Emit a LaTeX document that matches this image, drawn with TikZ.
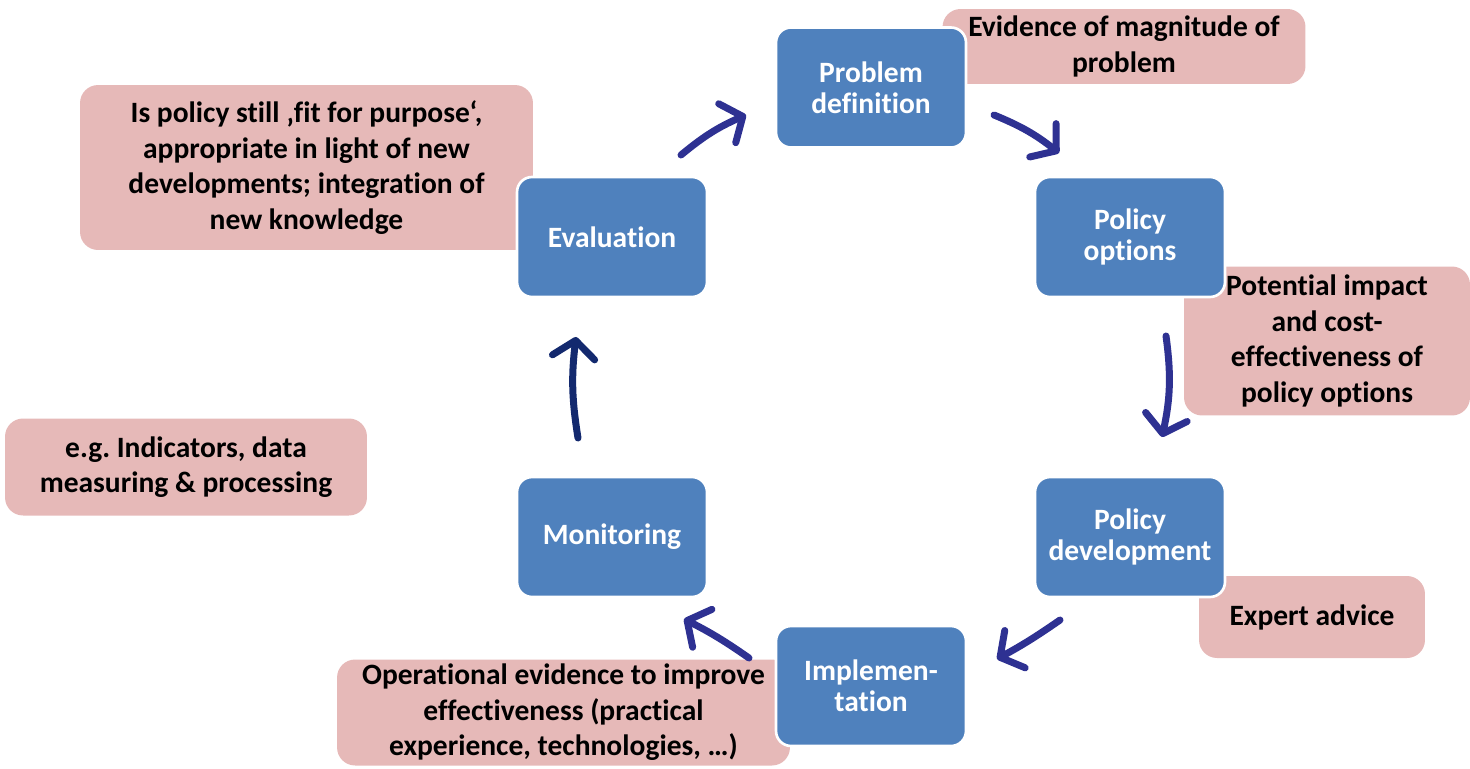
\documentclass[tikz,border=0pt]{standalone}
\usepackage{fontspec}
\setmainfont{Carlito}[Ligatures=NoCommon]
\usetikzlibrary{arrows.meta}
\definecolor{boxblue}{HTML}{4F81BD}
\definecolor{notepink}{HTML}{E6B9B8}
\definecolor{arrownavy}{HTML}{2E3192}
\definecolor{arrowdark}{HTML}{13296E}
\begin{document}
\frenchspacing
\begin{tikzpicture}[x=0.02cm,y=-0.02cm,
  stage/.style={draw=white, line width=1.5pt, fill=boxblue, rounded corners=0.3cm,
    minimum width=3.8cm, minimum height=2.4cm, text=white, align=center, inner sep=0,
    font=\bfseries\fontsize{16.8}{17.8}\selectfont},
  note/.style={fill=notepink, rounded corners=0.36cm, align=center, inner sep=0,
    font=\bfseries\fontsize{16.8}{20.2}\selectfont},
  cyc/.style={draw=arrownavy, line width=0.14cm, line cap=round,
    -{Straight Barb[length=0.34cm,width=0.85cm,round]}}
]
\useasboundingbox (0,0) rectangle (1470,768);
% notes
\node[note, minimum width=7.26cm, minimum height=1.5cm] (nprob) at (1124,46.5) {Evidence of magnitude of\\problem};
\node[note, minimum width=9.06cm, minimum height=3.3cm] (neval) at (306.5,167.5) {Is policy still ‚fit for purpose‘,\\appropriate in light of new\\developments; integration of\\new knowledge};
\node[note, minimum width=5.72cm, minimum height=2.98cm] (nopt) at (1327,341) {Potential impact\\and cost-\\effectiveness of\\policy options};
\node[note, minimum width=7.24cm, minimum height=1.94cm] (nmon) at (186,467) {e.g. Indicators, data\\measuring \& processing};
\node[note, minimum width=4.52cm, minimum height=1.64cm] (ndev) at (1312,617) {Expert advice};
\node[note, minimum width=9.06cm, minimum height=2.12cm] (nimp) at (563.5,712.5) {Operational evidence to improve\\effectiveness (practical\\experience, technologies, …)};
% stages
\node[stage] (prob) at (871,87.5) {Problem\\definition};
\node[stage] (opt) at (1130,237) {Policy\\options};
\node[stage] (dev) at (1130,537) {Policy\\development};
\node[stage] (imp) at (871,686) {Implemen-\\tation};
\node[stage] (mon) at (612,537) {Monitoring};
\node[stage] (eval) at (612,237) {Evaluation};
% arrow ends
\coordinate (a1s) at (681,155); \coordinate (a1e) at (746,115);
\coordinate (a2s) at (994,115); \coordinate (a2e) at (1059,153);
\coordinate (a3s) at (1166,336); \coordinate (a3e) at (1162,437);
\coordinate (a4s) at (1060,620); \coordinate (a4e) at (997,659);
\coordinate (a5s) at (749,658); \coordinate (a5e) at (684,619);
\coordinate (a6s) at (578,438); \coordinate (a6e) at (576,337);
\draw[cyc] (a1s) to[bend left=8] (a1e);
\draw[cyc] (a2s) to[bend left=8] (a2e);
\draw[cyc] (a3s) to[bend left=10] (a3e);
\draw[cyc] (a4s) to[bend left=3] (a4e);
\draw[cyc] (a5s) to[bend right=4] (a5e);
\draw[cyc, draw=arrowdark] (a6s) to[bend left=8] (a6e);
\end{tikzpicture}
\end{document}
